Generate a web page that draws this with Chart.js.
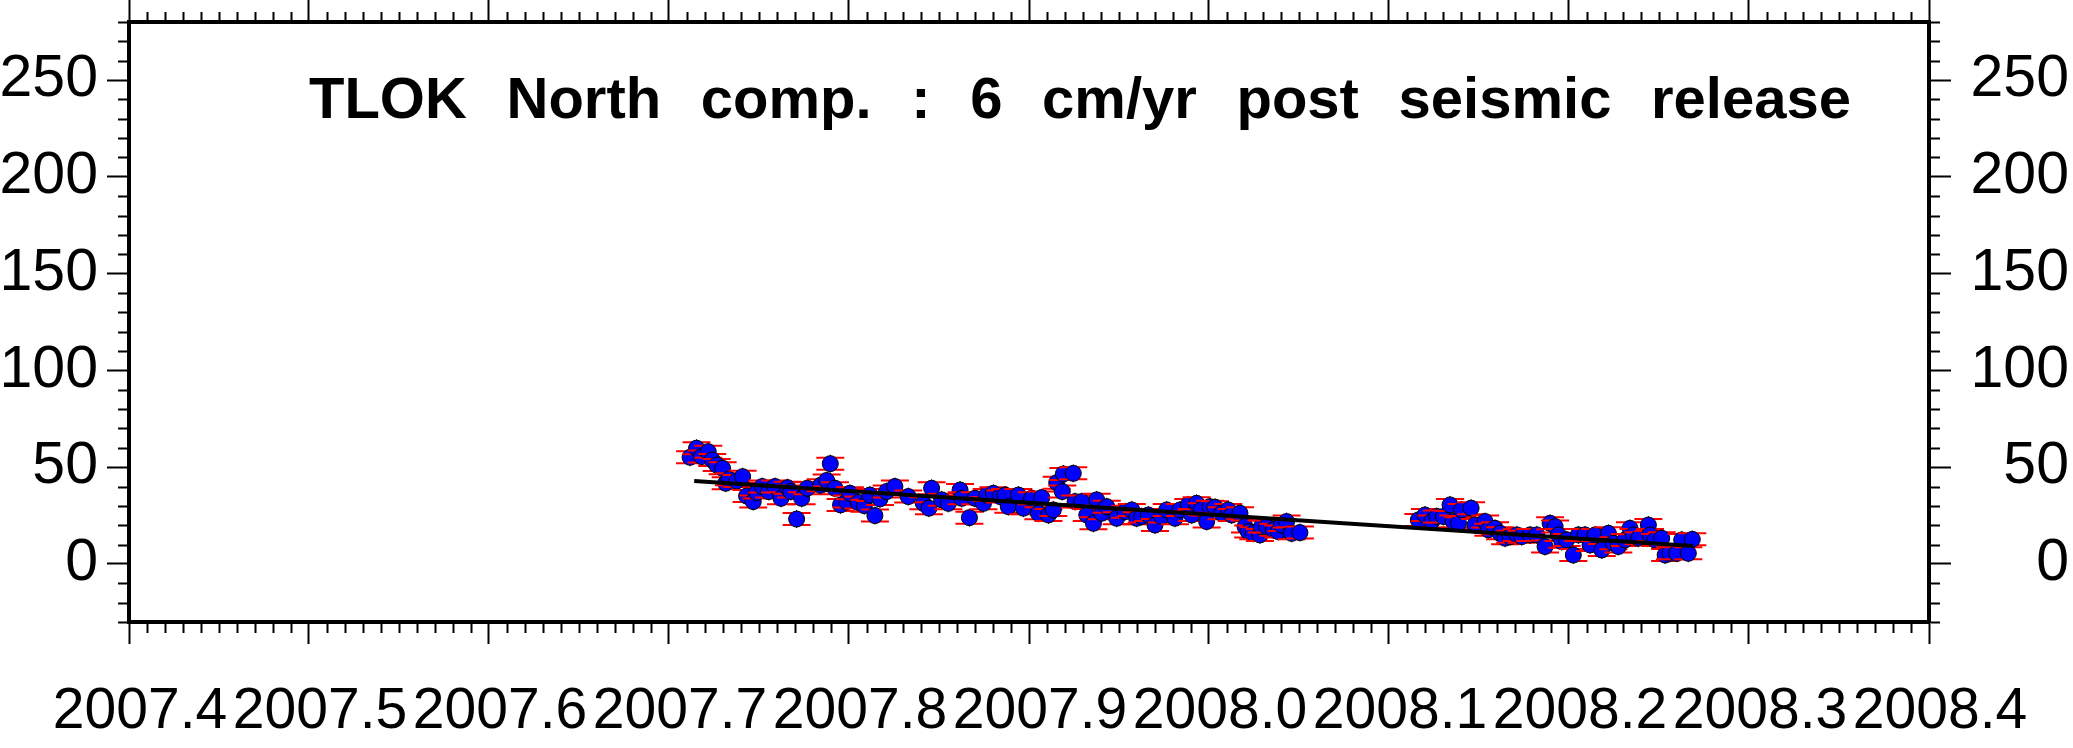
<!DOCTYPE html>
<html>
<head>
<meta charset="utf-8">
<title>TLOK North comp.</title>
<style>
  html, body { margin: 0; padding: 0; background: #fff; }
</style>
</head>
<body>
<canvas id="canvasChart" width="2073" height="748"></canvas>

<script src="https://cdn.jsdelivr.net/npm/chart.js"></script>
<script>

// observed daily positions (decimal year, north in mm)
const obsYears = [
  2007.7117, 2007.7153, 2007.7181, 2007.7218, 2007.7240, 2007.7265, 2007.7298, 2007.7315, 2007.7333, 2007.7376,
  2007.7409, 2007.7431, 2007.7468, 2007.7487, 2007.7518, 2007.7555, 2007.7589, 2007.7622, 2007.7659, 2007.7677,
  2007.7709, 2007.7737, 2007.7768, 2007.7842, 2007.7876, 2007.7896, 2007.7922, 2007.7953, 2007.7987, 2007.8005,
  2007.8052, 2007.8085, 2007.8116, 2007.8144, 2007.8172, 2007.8209, 2007.8255, 2007.8329, 2007.8413, 2007.8444,
  2007.8459, 2007.8515, 2007.8552, 2007.8617, 2007.8626, 2007.8669, 2007.8700, 2007.8747, 2007.8765, 2007.8802,
  2007.8839, 2007.8867, 2007.8885, 2007.8941, 2007.8969, 2007.9015, 2007.9052, 2007.9071, 2007.9108, 2007.9135,
  2007.9154, 2007.9185, 2007.9191, 2007.9246, 2007.9256, 2007.9293, 2007.9321, 2007.9358, 2007.9376, 2007.9404,
  2007.9432, 2007.9487, 2007.9534, 2007.9571, 2007.9598, 2007.9626, 2007.9663, 2007.9700, 2007.9737, 2007.9765,
  2007.9811, 2007.9839, 2007.9885, 2007.9904, 2007.9931, 2007.9959, 2007.9987, 2008.0005, 2008.0033, 2008.0070,
  2008.0107, 2008.0126, 2008.0172, 2008.0200, 2008.0218, 2008.0246, 2008.0283, 2008.0292, 2008.0320, 2008.0357,
  2008.0385, 2008.0403, 2008.0431, 2008.0459, 2008.0505,
  2008.1163, 2008.1200, 2008.1237, 2008.1265, 2008.1302, 2008.1339, 2008.1357, 2008.1386, 2008.1404, 2008.1456,
  2008.1478, 2008.1534, 2008.1552, 2008.1589, 2008.1617, 2008.1645, 2008.1673, 2008.1710, 2008.1737, 2008.1784,
  2008.1821, 2008.1867, 2008.1895, 2008.1923, 2008.1941, 2008.1960, 2008.1987, 2008.2024, 2008.2052, 2008.2089,
  2008.2117, 2008.2145, 2008.2182, 2008.2219, 2008.2247, 2008.2274, 2008.2311, 2008.2339, 2008.2358, 2008.2386,
  2008.2441, 2008.2450, 2008.2478, 2008.2515, 2008.2534, 2008.2561, 2008.2598, 2008.2626, 2008.2663, 2008.2685
];
const obsNorth = [
  55.1, 59.8, 55.5, 58.0, 53.7, 51.1, 49.4, 41.7, 43.7, 42.8,
  45.1, 35.1, 32.2, 36.9, 40.0, 37.4, 40.0, 33.9, 39.4, 37.4,
  23.2, 33.9, 39.1, 40.6, 43.1, 51.8, 39.1, 30.5, 32.2, 36.5,
  31.7, 30.1, 35.6, 25.0, 33.6, 37.4, 40.0, 34.8, 31.3, 28.8,
  39.1, 33.1, 31.3, 38.2, 33.9, 23.9, 33.9, 31.3, 35.6, 36.5,
  34.8, 35.6, 29.6, 35.6, 28.8, 33.9, 26.2, 34.3, 25.3, 27.9,
  42.0, 37.4, 46.5, 46.8, 32.2, 32.2, 25.3, 21.0, 33.1, 26.2,
  29.6, 23.6, 27.0, 27.9, 23.6, 24.5, 25.3, 20.1, 24.5, 27.9,
  23.6, 27.9, 30.5, 25.3, 31.3, 28.2, 21.9, 29.6, 29.3, 26.2,
  27.9, 25.3, 26.2, 19.3, 16.7, 15.8, 15.0, 19.3, 19.3, 17.6,
  16.7, 20.1, 21.9, 15.8, 16.2,
  22.7, 25.3, 21.9, 24.5, 24.5, 30.5, 21.9, 21.0, 27.9, 28.8,
  20.1, 21.9, 17.6, 18.4, 15.8, 13.3, 14.1, 15.0, 14.1, 15.0,
  15.0, 9.0, 21.0, 19.3, 15.0, 11.5, 12.4, 4.6, 15.0, 15.0,
  9.8, 15.0, 7.2, 15.8, 10.7, 9.0, 12.4, 18.4, 15.0, 13.3,
  20.1, 15.0, 12.4, 13.3, 4.6, 5.5, 5.5, 12.4, 5.5, 12.7
];
const sigma = 3.1; // mm, error bar half height

// linear fit (6 cm/yr)
const fitYears = [2007.714, 2008.269];
const fitNorth = [42.9, 9.3];

const xTicks = [2007.4, 2007.5, 2007.6, 2007.7, 2007.8, 2007.9, 2008.0, 2008.1, 2008.2, 2008.3, 2008.4];
const yTicks = [0, 50, 100, 150, 200, 250];
const xMin = 2007.4, xMax = 2008.4, yMin = -30, yMax = 280;

const titleText = 'TLOK  North  comp.  :  6  cm/yr  post  seismic  release';

Chart.defaults.font.family = '"Liberation Sans", Arial, sans-serif';
Chart.defaults.color = '#000';

// error bars drawn point by point, then the point itself on top
const errorBars = {
    id: 'errorBars',
    beforeDatasetDraw(chart, args) {
        if (args.index !== 1) return;
        const ctx = chart.ctx;
        const y = chart.scales.y;
        ctx.save();
        args.meta.data.forEach(function(p, i) {
            const top = y.getPixelForValue(obsNorth[i] + sigma);
            const bot = y.getPixelForValue(obsNorth[i] - sigma);
            ctx.strokeStyle = '#000';
            ctx.lineWidth = 1;
            ctx.beginPath();
            ctx.moveTo(p.x, top - 3);
            ctx.lineTo(p.x, bot + 3);
            ctx.stroke();
            ctx.strokeStyle = '#ff0000';
            ctx.lineWidth = 2;
            ctx.beginPath();
            ctx.moveTo(p.x - 14, top); ctx.lineTo(p.x + 14, top);
            ctx.moveTo(p.x - 14, bot); ctx.lineTo(p.x + 14, bot);
            ctx.stroke();
            p.draw(ctx, chart.chartArea);
        });
        ctx.restore();
        return false;
    }
};

// minor ticks on all four sides
const minorTicks = {
    id: 'minorTicks',
    afterDraw(chart) {
        const ctx = chart.ctx, a = chart.chartArea;
        const x = chart.scales.x, y = chart.scales.y;
        ctx.save();
        ctx.strokeStyle = '#000';
        ctx.lineWidth = 2;
        ctx.beginPath();
        for (let k = 1; k < 100; k++) {
            if (k % 10 === 0) continue;
            const px = Math.round(x.getPixelForValue(xMin + k * 0.01)) + 0.5;
            ctx.moveTo(px, a.bottom); ctx.lineTo(px, a.bottom + 11);
            ctx.moveTo(px, a.top); ctx.lineTo(px, a.top - 10);
        }
        for (let v = yMin; v <= yMax; v += 10) {
            if (v % 50 === 0) continue;
            const py = Math.round(y.getPixelForValue(v)) + 0.5;
            ctx.moveTo(a.left, py); ctx.lineTo(a.left - 11, py);
            ctx.moveTo(a.right, py); ctx.lineTo(a.right + 11, py);
        }
        ctx.stroke();
        ctx.restore();
    }
};

// title inside the frame
const innerTitle = {
    id: 'innerTitle',
    afterDraw(chart) {
        const ctx = chart.ctx;
        ctx.save();
        ctx.font = 'bold 58px "Liberation Sans", Arial, sans-serif';
        ctx.fillStyle = '#000';
        ctx.textBaseline = 'alphabetic';
        const w0 = ctx.measureText(titleText).width;
        if ('wordSpacing' in ctx) ctx.wordSpacing = ((1542 - w0) / 16) + 'px';
        ctx.fillText(titleText, 309, 118);
        ctx.restore();
    }
};

function axisGrid() {
    return { drawOnChartArea: false, drawTicks: true, tickLength: 22, tickWidth: 2, tickColor: '#000' };
}
const axisBorder = { display: true, width: 4, color: '#000' };

// fixed box sizes, no label overflow padding
function fixHeight(h) {
    return s => { s.height = h; s.paddingLeft = 0; s.paddingRight = 0; };
}
function fixWidth(w) {
    return s => { s.width = w; s.paddingTop = 0; s.paddingBottom = 0; };
}

const chart = new Chart(document.getElementById('canvasChart'), {
    type: 'scatter',
    data: {
        datasets: [{
            data: fitYears.map((v, i) => ({ x: v, y: fitNorth[i] })),
            showLine: true,
            borderColor: '#000',
            borderWidth: 4,
            pointRadius: 0,
            fill: false
        }, {
            data: obsYears.map((v, i) => ({ x: v, y: obsNorth[i] })),
            pointRadius: 8,
            pointBackgroundColor: '#0000ff',
            pointBorderColor: '#000',
            pointBorderWidth: 1
        }]
    },
    options: {
        responsive: false,
        animation: false,
        devicePixelRatio: 1,
        layout: { autoPadding: false, padding: { left: 0, right: 4, top: 0, bottom: 0 } },
        plugins: { legend: { display: false }, tooltip: { enabled: false }, title: { display: false } },
        scales: {
            x: {
                type: 'linear', position: 'bottom', min: xMin, max: xMax,
                afterBuildTicks: s => { s.ticks = xTicks.map(v => ({ value: v })); },
                afterFit: fixHeight(126),
                grid: axisGrid(), border: axisBorder,
                ticks: {
                    autoSkip: false, maxRotation: 0, minRotation: 0, padding: 34, labelOffset: 11,
                    font: { size: 57 }, color: '#000',
                    callback: v => v.toFixed(1)
                }
            },
            x2: {
                type: 'linear', position: 'top', min: xMin, max: xMax,
                afterBuildTicks: s => { s.ticks = xTicks.map(v => ({ value: v })); },
                afterFit: fixHeight(22),
                grid: axisGrid(), border: axisBorder,
                ticks: { display: false }
            },
            y: {
                type: 'linear', position: 'left', min: yMin, max: yMax,
                afterBuildTicks: s => { s.ticks = yTicks.map(v => ({ value: v })); },
                afterFit: fixWidth(129),
                grid: axisGrid(), border: axisBorder,
                ticks: { padding: 9, font: { size: 59 }, color: '#000' }
            },
            y2: {
                type: 'linear', position: 'right', min: yMin, max: yMax,
                afterBuildTicks: s => { s.ticks = yTicks.map(v => ({ value: v })); },
                afterFit: fixWidth(140),
                grid: axisGrid(), border: axisBorder,
                ticks: { padding: 9, crossAlign: 'far', font: { size: 59 }, color: '#000' }
            }
        }
    },
    plugins: [errorBars, minorTicks, innerTitle]
});

</script>
</body>
</html>
